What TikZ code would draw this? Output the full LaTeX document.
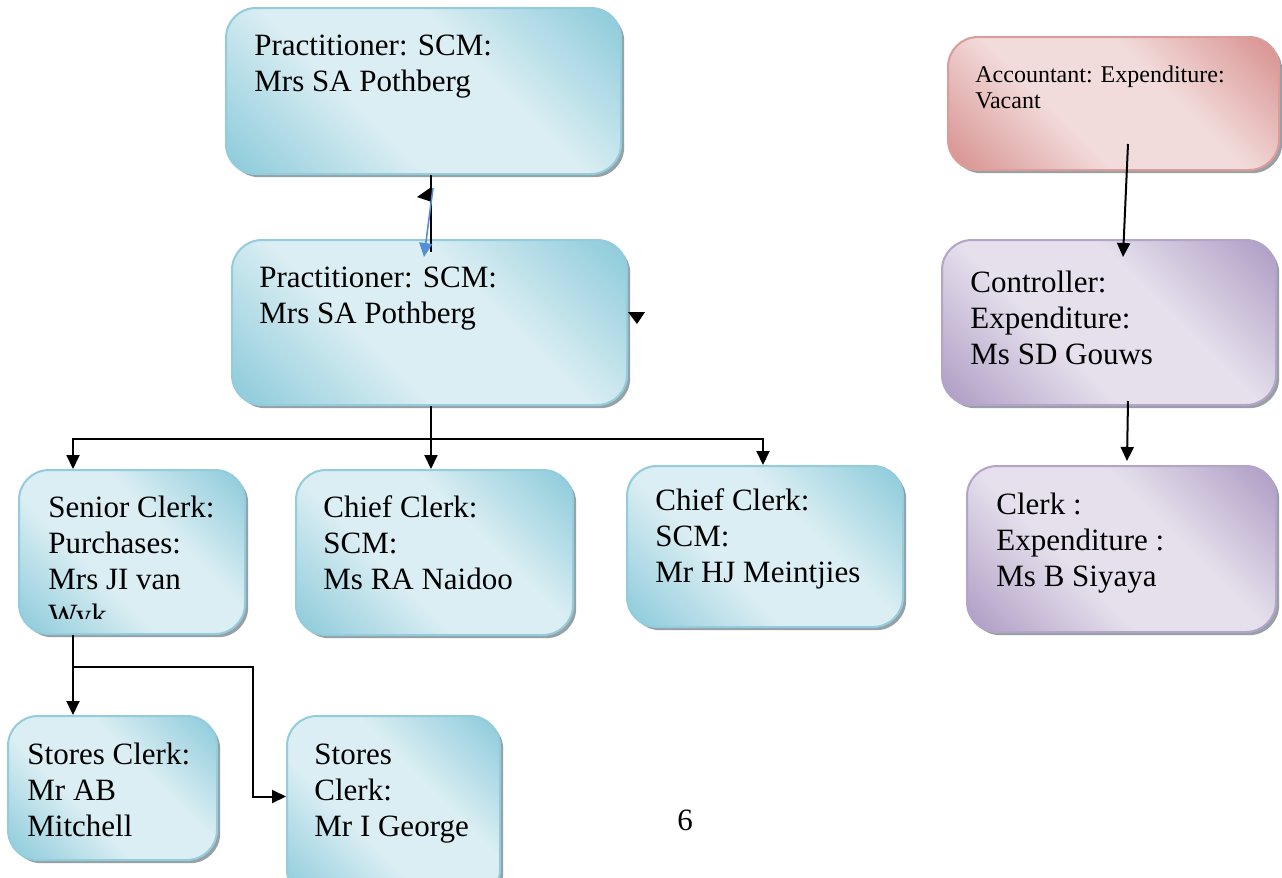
\documentclass[tikz,border=0pt]{standalone}
\usepackage{fontspec}
\setmainfont{Liberation Serif}
\usetikzlibrary{arrows.meta,fit,shadows}
\definecolor{bluedk}{RGB}{146,205,220}
\definecolor{bluelt}{RGB}{219,238,243}
\definecolor{bluebd}{RGB}{146,204,221}
\definecolor{pinkdk}{RGB}{217,150,148}
\definecolor{pinklt}{RGB}{242,220,219}
\definecolor{pinkbd}{RGB}{220,156,154}
\definecolor{purpdk}{RGB}{178,161,199}
\definecolor{purplt}{RGB}{229,224,236}
\definecolor{purpbd}{RGB}{180,164,201}
\definecolor{arrowblue}{RGB}{85,142,213}
\definecolor{shadowgray}{RGB}{150,160,165}
\pgfdeclarehorizontalshading{blueshade}{100bp}{color(0bp)=(bluedk); color(17bp)=(bluedk); color(40bp)=(bluelt); color(60bp)=(bluelt); color(83bp)=(bluedk); color(100bp)=(bluedk)}
\pgfdeclarehorizontalshading{pinkshade}{100bp}{color(0bp)=(pinkdk); color(17bp)=(pinkdk); color(40bp)=(pinklt); color(60bp)=(pinklt); color(83bp)=(pinkdk); color(100bp)=(pinkdk)}
\pgfdeclarehorizontalshading{purpshade}{100bp}{color(0bp)=(purpdk); color(17bp)=(purpdk); color(40bp)=(purplt); color(60bp)=(purplt); color(83bp)=(purpdk); color(100bp)=(purpdk)}
\tikzset{
  boxbase/.style={rectangle, rounded corners=15pt, inner sep=0pt, line width=1pt,
    shading angle=45,
    drop shadow={shadow xshift=1.6pt, shadow yshift=-1.6pt, fill=shadowgray, opacity=1}},
  bluebox/.style={boxbase, draw=bluebd, shading=blueshade},
  pinkbox/.style={boxbase, draw=pinkbd, shading=pinkshade},
  purpbox/.style={boxbase, draw=purpbd, shading=purpshade},
  txt/.style={anchor=north west, align=left, inner sep=0pt, font=\fontsize{15.5}{18}\selectfont},
  smalltxt/.style={anchor=north west, align=left, inner sep=0pt, font=\fontsize{12}{13}\selectfont},
  ln/.style={line width=1pt, black},
  arr/.style={ln, -{Triangle[width=6.5pt,length=7pt]}},
  bluearr/.style={line width=0.8pt, arrowblue, -{Triangle[width=6.5pt,length=7pt]}}
}
\newcommand{\fls}{\rule{0pt}{13pt}}
\newcommand{\flsm}{\rule{0pt}{10pt}}
\begin{document}
\begin{tikzpicture}[x=0.5pt, y=-0.5pt]
\useasboundingbox[fill=white] (0,0) rectangle (1282,878);
% boxes
\node[bluebox, fit={(226,8) (621,174)}] (b1) {};
\node[bluebox, fit={(232,240) (627,405)}] (b2) {};
\node[bluebox, fit={(19,470) (245,634)}] (sc) {};
\node[bluebox, fit={(296,470) (573,635)}] (cc1) {};
\node[bluebox, fit={(627,466) (903,627)}] (cc2) {};
\node[pinkbox, fit={(948,37) (1279,170)}] (acc) {};
\node[purpbox, fit={(942,240) (1276,405)}] (ctrl) {};
\node[purpbox, fit={(967,466) (1276,632)}] (clk) {};
\node[bluebox, fit={(8,716) (217,860)}] (st1) {};
\node[bluebox, fit={(287,716) (500,900)}] (st2) {};
% texts
\node[txt] (t1) at (254,29) {\fls Practitioner: SCM:\\Mrs SA Pothberg};
\node[txt] (t2) at (259,261) {\fls Practitioner: SCM:\\Mrs SA Pothberg};
\begin{scope}
\clip (0,460) rectangle (260,618);
\node[txt] (t3) at (48,491) {\fls Senior Clerk:\\Purchases:\\Mrs JI van\\Wyk};
\end{scope}
\node[txt] (t4) at (323,491) {\fls Chief Clerk:\\SCM:\\Ms RA Naidoo};
\node[txt] (t5) at (655,484) {\fls Chief Clerk:\\SCM:\\Mr HJ Meintjies};
\node[smalltxt] (t6) at (975,62) {\flsm Accountant: Expenditure:\\Vacant};
\node[txt] (t7) at (970,266) {\fls Controller:\\Expenditure:\\Ms SD Gouws};
\node[txt] (t8) at (996,488) {\fls Clerk :\\Expenditure :\\Ms B Siyaya};
\node[txt] (t9) at (27,738) {\fls Stores Clerk:\\Mr AB\\Mitchell};
\node[txt] (t10) at (314,738) {\fls Stores\\Clerk:\\Mr I George};
\node[txt] (pg) at (677,804) {\fls 6};
% connectors
\path ([xshift=3.75pt]b1.south) coordinate (s1);
\path ([yshift=-6.5pt]b2.north) coordinate (b2in);
\draw[ln] (s1) -- (b2in -| s1);
\fill (417,197) -- (430,188) -- (432,202) -- cycle;
\draw[bluearr] ([xshift=4.75pt,yshift=-6.5pt]b1.south) -- ([xshift=-2.75pt,yshift=-9pt]b2.north);
\fill (628,312) -- (645,312) -- (637,324) -- cycle;
\draw[ln] ([xshift=0.75pt]b2.south) -- ++(0,33) coordinate (j);
\draw[arr] (j) -| ([xshift=-29.5pt]sc.north);
\draw[arr] (j) -- ([xshift=-1.75pt]cc1.north);
\draw[arr] (j) -| ([xshift=-1pt]cc2.north);
\draw[arr] ([xshift=7.25pt,yshift=13.5pt]acc.south) -- ([xshift=7pt,yshift=-9pt]ctrl.north);
\draw[arr] ([xshift=9.5pt,yshift=2.5pt]ctrl.south) -- ([xshift=2.75pt,yshift=2pt]clk.north);
\draw[ln] ([xshift=-29.5pt]sc.south) -- ++(0,32) coordinate (k);
\draw[arr] (k) -- (st1.north -| k);
\draw[arr] (k) -- ++(180,0) |- ([yshift=5.75pt]st2.west);
\end{tikzpicture}
\end{document}
